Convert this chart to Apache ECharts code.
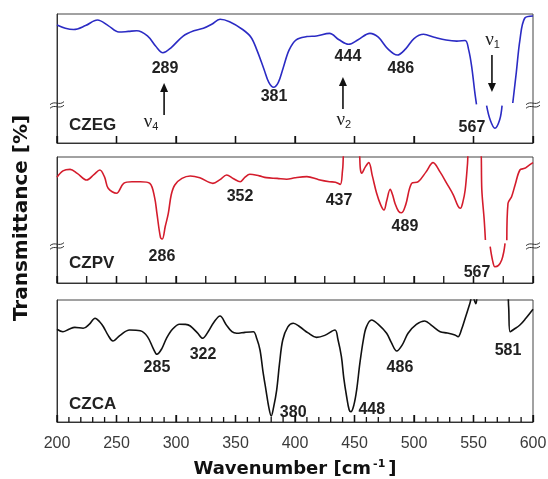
<!DOCTYPE html>
<html><head><meta charset="utf-8">
<script src="https://cdn.jsdelivr.net/npm/echarts@6/dist/echarts.min.js"></script>
<style>html,body{margin:0;padding:0;background:#fff}#c{width:548px;height:479px}</style>
</head><body><div id="c"></div>
<script>
// ---- data (wavenumber in cm^-1, transmittance in relative panel units; null = axis break / gap) ----
const xMin = 200, xMax = 600, xStep = 50;

const czegWn = [200,207,214,224,234,243,252,260,267,276,283,289,296,306,315,323,330,337,345,356,363,368,374,378,382,386,390,395,401,410,418,429,437,445,453,463,470,478,486,493,500,508,517,527,536,543,546,548.5,551,552.5,556,561,564,568,572,574,578,583,586,589,593,600];
const czegT  = [91.5,89,88,91,95.3,91,86,86.5,87,83,75,70,74,82.9,87,88.9,92,95.9,94,88,82,72,57,47,43.2,47,58,72,80,82.5,83,85,80,76.5,80,85,82,73,68.2,73,81,84.3,82,79.8,79,79.5,72,59,40,30,null,29,18,11.4,18,29,null,31,55,79.8,96.7,98.4];

const czpvWn = [200,205,211,217,225,231,236,240,243,250,256,263,270,278,282,284,287,288.5,291,293.5,296,299,305,312,320,331,337,342.6,348,354,358,362,370,376,385,393,400,410,420,429,434,438,440,442,453,455,456,459,462,465,468.6,472,474.8,477,480,482,484,487,489.6,493,498,503.6,510,516,522,527.5,533,537,539,541,543,545,546,556,557,559,560,562,564,566,568,571,573.7,575.5,576.5,577,578,579,582,585,589,593,596,600];
const czpvT  = [83.9,89,90.2,87,81.7,86,89.7,84,75.2,71.2,79.1,80.4,80.4,79.1,68,55,36,34.9,45,55,70,77.8,83,84.9,83.5,79.1,82,85.7,83,80.4,84,86.3,85,83.6,83,82.3,83.5,84.4,82,80.4,80,78.3,90,106,106,90,87.1,92,95.5,85,71.2,62,57.9,65,74.4,70,63.3,57,55.8,62,79.1,80.4,88,95.5,88,79.1,70,61,59.3,64,73.8,95,108,108,73.8,50,34.1,null,28.8,18,12.9,14,18.3,25,31.5,null,34,63.3,68.5,78,89.7,91,93,95.5];

const czcaWn = [200,205,210,215,222,227,232,236,239,243,247,253,261,270,276,281,284,288,292,297,303,308,312,318,322.4,327,332,337,342,347,351,358,365,368,370.6,373,375.6,378,380,382,384.6,387,389.7,394,398.6,404,411,418,425,433.6,436,439,441,443.4,445.5,447,449.5,451.8,454.5,457.4,460,464.4,470,477,481,485.5,490,495,502,509,515,522,528,534.4,537,540,543,547,549,552,555,578,579.5,580.7,584,589,594,600];
const czcaT  = [76,74,76,77.6,76.8,80,85,82,78.1,71,66.4,71,75.4,74.8,70,60,55.5,60,68.6,76,80.1,80,78.7,73,68.6,74,82,86.9,80,74,72.7,73.5,74,68,59,42,26.2,12,4.9,12,26.2,48,67.2,78,80.9,78.1,73,69.4,71,75.4,68,53.5,36,20.7,10,8.4,14,26.2,48,67.2,78,83.6,80,72.7,65,58.2,63,72.7,80,82.8,79,74,73,71.3,69.9,76,85,97.3,104,97,108,108,95,74,76,79.5,85,92.4];

const sampleNames = ['CZEG', 'CZPV', 'CZCA'];
// peak labels: [panel, text, wavenumber position, transmittance position]
const peakLabels = [
  [0,'289',290.8,57.4],[0,'381',382.4,35.7],[0,'444',444.5,66.7],[0,'486',489,57.4],[0,'567',548.7,11.6],
  [1,'286',288.2,20.6],[1,'352',353.8,68.3],[1,'437',437,65.1],[1,'489',492.4,44.4],[1,'567',553,7.9],
  [2,'285',284,44.3],[2,'322',322.7,54.9],[2,'380',398.5,7.4],[2,'448',464.5,9.8],[2,'486',488.2,44.3],[2,'581',579,58.2]
];
// vibrational mode labels with arrows: [panel, subscript, label x, label y, arrow x, arrow from y, arrow to y]
const modeLabels = [
  [0,'4',279,16,290,21.7,46.5],
  [0,'2',441,18,440.3,26.4,51.2],
  [0,'1',566,80,565.5,68.2,39.5]
];
const breakLevels = [[0,29.5],[1,29.4]];
// tick steps per panel: [major, minor]
const tickSteps = [[50, 50], [50, 25], [50, 10]];

// ---- chart ----
const chart = echarts.init(document.getElementById('c'));
const tops = [14, 157, 300], heights = [129, 126, 122];
const colors = ['#2b2bc4', '#d41c2c', '#111111'];
const wns = [czegWn, czpvWn, czcaWn], ts = [czegT, czpvT, czcaT];

const grids = tops.map((t, i) => ({left: 57, width: 476, top: t, height: heights[i], show: true, borderColor: '#444', borderWidth: 1, containLabel: false, outerBoundsMode: 'none'}));
const xAxes = [0,1,2].map(i => ({
  type: 'value', gridIndex: i, min: xMin, max: xMax, interval: xStep,
  axisLine: {show: true, lineStyle: {color: '#333', width: 1}},
  axisTick: {show: true, inside: true, length: 7, lineStyle: {color: '#111', width: 1.3}},
  splitLine: {show: false},
  axisLabel: {show: i === 2, fontSize: 16, color: '#3a3a3a', fontFamily: 'Liberation Sans', margin: 14},
  name: i === 2 ? '{a|Wavenumber [cm}{b|-1}{a|]}' : '', nameLocation: 'middle', nameGap: 37,
  nameTextStyle: {rich: {a: {fontSize: 18, fontWeight: 'bold', fontFamily: 'DejaVu Sans', color: '#111'}, b: {fontSize: 11, fontWeight: 'bold', fontFamily: 'DejaVu Sans', color: '#111', verticalAlign: 'top', padding: [0, 3, 10, 2]}}}
}));
const yAxes = [0,1,2].map(i => ({
  type: 'value', gridIndex: i, min: 0, max: 100,
  axisLine: {show: true, lineStyle: {color: '#333'}}, axisTick: {show: false}, axisLabel: {show: false}, splitLine: {show: false}
}));
const series = [0,1,2].map(i => ({
  type: 'line', xAxisIndex: i, yAxisIndex: i, showSymbol: false, smooth: 0.35, connectNulls: false, clip: true,
  lineStyle: {color: colors[i], width: 1.6}, itemStyle: {color: colors[i]},
  data: wns[i].map((w, k) => [w, ts[i][k] === null ? '-' : ts[i][k]])
}));
// tick marks drawn through the axis scales with custom series (one per panel)
tickSteps.forEach(([maj, mn], p) => {
  const vals = [];
  for (let v = xMin; v <= xMax + 1e-6; v += mn) vals.push([v, Math.abs((v - xMin) % maj) < 1e-6 ? 1 : 0]);
  series.push({
    type: 'custom', xAxisIndex: p, yAxisIndex: p, silent: true, z: 10, clip: false,
    data: vals,
    renderItem: (params, api) => {
      const pt = api.coord([api.value(0), 0]);
      const len = api.value(1) ? 7 : (p === 2 ? 5 : 7);
      return {type: 'line', shape: {x1: pt[0], y1: pt[1], x2: pt[0], y2: pt[1] - len}, style: {stroke: '#111', lineWidth: 1.3}};
    }
  });
});

chart.setOption({animation: false, grid: grids, xAxis: xAxes, yAxis: yAxes, series: series});

const px = (g, x, y) => chart.convertToPixel({gridIndex: g}, [x, y]);
const g = [];
// y axis title
g.push({type: 'text', x: 22, y: 218, rotation: Math.PI / 2, style: {text: 'Transmittance [%]', align: 'center', verticalAlign: 'middle', fontSize: 20, fontWeight: 'bold', fontFamily: 'DejaVu Sans', fill: '#111'}});
const lblFont = {fontSize: 16, fontWeight: 'bold', fontFamily: 'Liberation Sans', fill: '#222'};
peakLabels.forEach(([p, t, x, y]) => {
  const [X, Y] = px(p, x, y);
  g.push({type: 'text', x: X, y: Y, style: Object.assign({text: t, align: 'center', verticalAlign: 'middle'}, lblFont)});
});
sampleNames.forEach((n, i) => {
  const yy = tops[i] + heights[i] - (i === 1 ? 20 : 18);
  g.push({type: 'text', x: 69, y: yy, style: Object.assign({text: n, align: 'left', verticalAlign: 'middle'}, lblFont, {fontSize: 17})});
});
modeLabels.forEach(([p, sub, lx, ly, ax, ay1, ay2]) => {
  const [LX, LY] = px(p, lx, ly);
  g.push({type: 'text', x: LX, y: LY, style: {text: '{v|ν}{s|' + sub + '}', align: 'center', verticalAlign: 'middle',
    rich: {v: {fontSize: 19, fontFamily: 'Liberation Serif', fill: '#222'}, s: {fontSize: 11, fontFamily: 'Liberation Sans', fill: '#222', verticalAlign: 'bottom', padding: [10, 0, 0, 0]}}}});
  const [A1x, A1y] = px(p, ax, ay1), [A2x, A2y] = px(p, ax, ay2);
  const dir = A2y < A1y ? -1 : 1;
  g.push({type: 'line', shape: {x1: A1x, y1: A1y, x2: A2x, y2: A2y - dir * 6}, style: {stroke: '#111', lineWidth: 1.6}});
  g.push({type: 'polygon', shape: {points: [[A2x, A2y], [A2x - 4, A2y - dir * 9], [A2x + 4, A2y - dir * 9]]}, style: {fill: '#111'}});
});
breakLevels.forEach(([p, y]) => {
  [xMin, xMax].forEach(xv => {
    const [X, Y] = px(p, xv, y);
    [-1.8, 1.8].forEach(d => {
      g.push({type: 'bezierCurve', shape: {x1: X - 7, y1: Y + d + 1.5, cpx1: X - 2, cpy1: Y + d - 3, cpx2: X + 2, cpy2: Y + d + 3, x2: X + 7, y2: Y + d - 1.5}, style: {stroke: '#333', lineWidth: 1, fill: null}});
    });
  });
});
chart.setOption({graphic: g});
</script></body></html>
